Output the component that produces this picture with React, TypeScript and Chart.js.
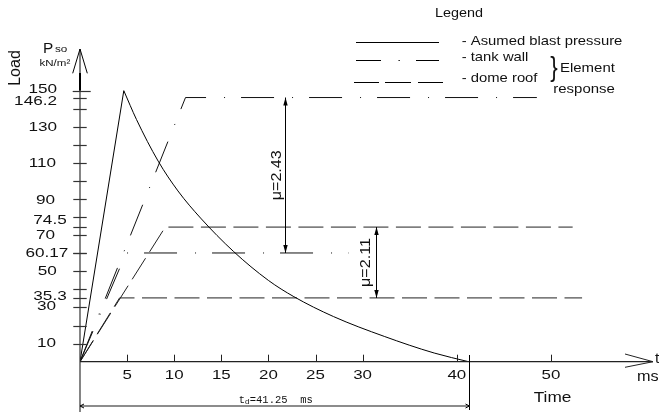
import React, { useEffect, useRef } from "react";
import { Chart, registerables } from "chart.js";

Chart.register(...registerables);

// ---------- data ----------
const blastRiseT = [0, 4.65];
const blastRiseP = [0, 150];
const blastDecayT = [4.65, 6, 8.3, 10.4, 12.8, 16.3, 20, 22.7, 26.9, 32.3, 37.6, 41.25];
const blastDecayP = [150, 134, 111, 94.5, 79.5, 61, 45, 36, 25, 14, 4.8, 0];

const tankWallPlasticT = [0, 11.2, 48.5];
const tankWallPlasticP = [0, 146.2, 146.2];
const tankWallElasticT = [0, 4.9, 28.5];
const tankWallElasticP = [0, 60.17, 60.17];

const domeRoofPlasticT = [0, 9.05, 52.3];
const domeRoofPlasticP = [0, 74.5, 74.5];
const domeRoofElasticT = [0, 4.2, 53.3];
const domeRoofElasticP = [0, 35.3, 35.3];

const xTickValues = [5, 10, 15, 20, 25, 30, 40, 50];
const yTickMarkValues = [10, 20, 30, 35.3, 40, 50, 60, 60.17, 70, 74.5, 80, 90, 100, 110, 120, 130, 140, 146.2, 150];
const yTickLabelValues = [150, 146.2, 130, 110, 90, 74.5, 70, 60.17, 50, 35.3, 30, 10];

const muTimes = [21.8, 31.4];
const muFrom = [60.17, 35.3];
const muTo = [146.2, 74.5];
const muLabels = ["μ=2.43", "μ=2.11"];
const tdValue = 41.25;

const legendLabels = ["- Asumed blast pressure", "- tank wall", "- dome roof"];

// ---------- layout / style (not data) ----------
const TANK_DASH = [33, 18, 1, 16];
const DOME_DASH = [25, 7.5];
// label right edge x and vertical nudge for y tick labels
const yLabelLayout: Record<string, [number, number]> = {
  "150": [57, -1],
  "146.2": [57, 4],
  "130": [57, 0],
  "110": [56, 0],
  "90": [55, 1],
  "74.5": [66.7, -6.5],
  "70": [55, 0],
  "60.17": [68.3, 0],
  "50": [56.7, 0],
  "35.3": [66.7, -2],
  "30": [56, -1],
  "10": [56, 0],
};

const SANS = '"Liberation Sans", Arial, sans-serif';
const MONO = '"Liberation Mono", "DejaVu Sans Mono", monospace';

function pts(t: number[], p: number[]) {
  return t.map((x, i) => ({ x, y: p[i] }));
}

function txt(
  ctx: CanvasRenderingContext2D,
  s: string,
  x: number,
  y: number,
  size: number,
  sx: number,
  align: "left" | "right" | "center",
  family = SANS,
  baseline: CanvasTextBaseline = "middle"
) {
  ctx.save();
  ctx.font = `${size}px ${family}`;
  const w = ctx.measureText(s).width * sx;
  const left = align === "left" ? x : align === "right" ? x - w : x - w / 2;
  ctx.translate(left, y);
  ctx.scale(sx, 1);
  ctx.textAlign = "left";
  ctx.textBaseline = baseline;
  ctx.fillText(s, 0, 0);
  ctx.restore();
}

function line(ctx: CanvasRenderingContext2D, x1: number, y1: number, x2: number, y2: number) {
  ctx.beginPath();
  ctx.moveTo(x1, y1);
  ctx.lineTo(x2, y2);
  ctx.stroke();
}

function arrowV(ctx: CanvasRenderingContext2D, x: number, y: number, dir: number) {
  ctx.beginPath();
  ctx.moveTo(x, y);
  ctx.lineTo(x - 2.2, y - dir * 8);
  ctx.lineTo(x + 2.2, y - dir * 8);
  ctx.closePath();
  ctx.fill();
}

const drawingPlugin = {
  id: "drawing",
  afterDraw(chart: any) {
    const ctx: CanvasRenderingContext2D = chart.ctx;
    const xs = chart.scales.x;
    const ys = chart.scales.y;
    const X = (v: number) => xs.getPixelForValue(v);
    const Y = (v: number) => ys.getPixelForValue(v);
    const x0 = X(0);
    const y0 = Y(0);
    ctx.save();
    ctx.fillStyle = "#111";
    ctx.strokeStyle = "#333";
    ctx.lineWidth = 1.2;

    // ---- y axis ----
    line(ctx, x0, Y(150), x0, 412);
    ctx.strokeStyle = "#000";
    ctx.lineWidth = 2;
    line(ctx, x0, 73, x0, Y(150));
    ctx.lineWidth = 1;
    line(ctx, x0, 49, x0, 73);
    line(ctx, x0, 49, x0 - 7.3, 73.3);
    line(ctx, x0, 49, x0 + 7.3, 73.3);
    ctx.strokeStyle = "#333";
    ctx.lineWidth = 1.2;
    for (const v of yTickMarkValues) {
      const py = Math.round(Y(v)) + 0.5;
      if (v === 150) line(ctx, x0 - 7.3, py, x0 + 10.7, py);
      else line(ctx, x0 - 6.7, py, x0 + 6.7, py);
    }
    for (const v of yTickLabelValues) {
      const key = String(v);
      const [rx, dy] = yLabelLayout[key] || [56, 0];
      txt(ctx, key, rx, Y(v) + dy, 13.5, 1.27, "right");
    }
    // axis titles
    txt(ctx, "P", 43, 53, 14, 1.1, "left", SANS, "alphabetic");
    txt(ctx, "so", 55, 52, 9, 1.3, "left", SANS, "alphabetic");
    txt(ctx, "kN/m²", 39.5, 66, 9, 1.28, "left", SANS, "alphabetic");
    ctx.save();
    ctx.translate(16, 68);
    ctx.rotate(-Math.PI / 2);
    txt(ctx, "Load", 0, 0, 16, 1, "center");
    ctx.restore();

    // ---- x axis ----
    ctx.strokeStyle = "#222";
    ctx.lineWidth = 1.2;
    line(ctx, x0, y0, 653, y0);
    ctx.lineWidth = 1;
    line(ctx, 653, y0, 625, y0 - 7.7);
    line(ctx, 653, y0, 625, y0 + 5.6);
    for (const v of xTickValues) {
      const px = Math.round(X(v)) + 0.5;
      line(ctx, px, y0 - 7, px, y0);
      txt(ctx, String(v), X(v), 375, 13.5, 1.25, "center");
    }
    txt(ctx, "t", 655, 359, 14, 1.1, "left");
    txt(ctx, "ms", 637, 377, 14, 1.16, "left");
    txt(ctx, "Time", 552.5, 398.5, 14, 1.23, "center");

    // ---- td dimension ----
    const xtd = Math.round(X(tdValue)) + 0.5;
    ctx.strokeStyle = "#000";
    line(ctx, xtd, 355, xtd, 410);
    ctx.strokeStyle = "#666";
    ctx.lineWidth = 1.5;
    line(ctx, x0, 406, xtd, 406);
    ctx.lineWidth = 1;
    ctx.strokeStyle = "#000";
    line(ctx, x0, 406, x0 + 4, 404);
    line(ctx, x0, 406, x0 + 4, 408);
    line(ctx, xtd, 406, xtd - 4, 404);
    line(ctx, xtd, 406, xtd - 4, 408);
    const cx = (x0 + xtd) / 2 + 1;
    txt(ctx, "t", cx - 37, 403, 10, 1.05, "left", MONO, "alphabetic");
    txt(ctx, "d", cx - 31, 404, 8, 1.05, "left", MONO, "alphabetic");
    txt(ctx, "=41.25  ms", cx - 26, 403, 10, 1.05, "left", MONO, "alphabetic");

    // ---- μ dimension lines ----
    ctx.strokeStyle = "#000";
    ctx.fillStyle = "#000";
    ctx.lineWidth = 1;
    muTimes.forEach((t, i) => {
      const px = Math.round(X(t)) + 0.5;
      const yTop = Y(muTo[i]);
      const yBot = Y(muFrom[i]);
      line(ctx, px, yTop, px, yBot);
      arrowV(ctx, px, yTop, -1);
      arrowV(ctx, px, yBot, 1);
      ctx.save();
      ctx.translate(px - (i === 0 ? 8.5 : 10.5), (yTop + yBot) / 2);
      ctx.rotate(-Math.PI / 2);
      ctx.fillStyle = "#111";
      txt(ctx, muLabels[i], 0, 0, 14, 1.15, "center");
      ctx.restore();
    });

    // ---- legend ----
    ctx.fillStyle = "#111";
    txt(ctx, "Legend", 459, 14, 12, 1.2, "center");
    ctx.strokeStyle = "#000";
    ctx.lineWidth = 1;
    line(ctx, 356, 42.5, 439, 42.5);
    line(ctx, 356, 60.5, 381, 60.5);
    line(ctx, 398.5, 60.5, 399.8, 60.5);
    line(ctx, 416, 60.5, 439, 60.5);
    line(ctx, 354, 82.5, 379, 82.5);
    line(ctx, 385, 82.5, 411, 82.5);
    line(ctx, 418, 82.5, 443, 82.5);
    txt(ctx, legendLabels[0], 461.7, 41.7, 13, 1.14, "left");
    txt(ctx, legendLabels[1], 461.7, 57.7, 13, 1.14, "left");
    txt(ctx, legendLabels[2], 461.7, 78.3, 13, 1.14, "left");
    txt(ctx, "}", 554, 68, 28, 0.8, "center");
    txt(ctx, "Element", 560, 68, 13, 1.15, "left");
    txt(ctx, "response", 553.3, 89.3, 13, 1.15, "left");

    ctx.restore();
  },
};

export default function App() {
  const ref = useRef<HTMLCanvasElement | null>(null);
  useEffect(() => {
    if (!ref.current) return;
    const base = {
      borderColor: "#000",
      borderWidth: 1,
      pointRadius: 0,
      fill: false,
      tension: 0,
    };
    const chart = new Chart(ref.current, {
      type: "line",
      data: {
        datasets: [
          { ...base, label: "Asumed blast pressure", data: pts(blastRiseT, blastRiseP) },
          {
            ...base,
            label: "Asumed blast pressure (decay)",
            data: pts(blastDecayT, blastDecayP),
            cubicInterpolationMode: "monotone",
          },
          { ...base, label: "tank wall", data: pts(tankWallPlasticT, tankWallPlasticP), borderDash: TANK_DASH, borderColor: "#111" },
          { ...base, label: "tank wall (elastic)", data: pts(tankWallElasticT, tankWallElasticP), borderDash: TANK_DASH, borderColor: "#111" },
          { ...base, label: "dome roof", data: pts(domeRoofPlasticT, domeRoofPlasticP), borderDash: DOME_DASH, borderColor: "#222" },
          { ...base, label: "dome roof (elastic)", data: pts(domeRoofElasticT, domeRoofElasticP), borderDash: DOME_DASH, borderColor: "#222" },
        ] as any,
      },
      options: {
        responsive: false,
        maintainAspectRatio: false,
        animation: false,
        parsing: true,
        layout: { padding: { left: 80, right: 13.8, top: 72.6, bottom: 50.3 } },
        plugins: { legend: { display: false }, tooltip: { enabled: false } },
        scales: {
          x: { type: "linear", min: 0, max: 60, display: false },
          y: { type: "linear", min: 0, max: 160, display: false },
        },
      },
      plugins: [drawingPlugin],
    });
    return () => chart.destroy();
  }, []);
  return (
    <div style={{ position: "fixed", left: 0, top: 0, width: 659, height: 412, background: "#fff" }}>
      <canvas ref={ref} width={659} height={412} style={{ width: 659, height: 412, display: "block" }} />
    </div>
  );
}
